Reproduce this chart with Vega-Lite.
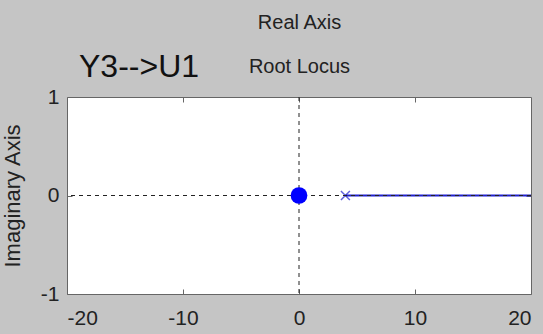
{
  "$schema": "https://vega.github.io/schema/vega-lite/v6.json",
  "width": 464,
  "height": 197,
  "autosize": "none",
  "padding": {"left": 67, "top": 97, "right": 12, "bottom": 40},
  "background": "#c5c5c5",
  "view": {"fill": "white", "stroke": "#666666", "strokeWidth": 1},
  "title": {"text": "Y3-->U1", "anchor": "start", "frame": "group", "dx": 12, "dy": 89, "offset": 17, "font": "Liberation Sans", "fontSize": 32, "fontWeight": "normal", "color": "#111111"},
  "config": {
    "font": "Liberation Sans",
    "axis": {"domain": false, "grid": false, "tickSize": -5, "tickColor": "#666666", "labelFont": "Liberation Sans", "labelFontSize": 21, "labelColor": "#222222", "titleFont": "Liberation Sans", "titleFontSize": 20, "titleFontWeight": "normal", "titleColor": "#222222", "labelExpr": "'' + datum.value"}
  },
  "datasets": {
    "locus": [{"re": 4, "im": 0}, {"re": 20, "im": 0}],
    "pole": [{"re": 4, "im": 0}],
    "zero": [{"re": 0, "im": 0}],
    "origin": [{"re": 0, "im": 0}]
  },
  "resolve": {"axis": {"x": "independent", "y": "independent"}},
  "layer": [
    {
      "data": {"name": "locus"},
      "mark": {"type": "line", "color": "#2020d0", "strokeWidth": 2},
      "encoding": {
        "x": {"field": "re", "type": "quantitative", "scale": {"domain": [-20, 20], "nice": false, "zero": false},
              "axis": {"orient": "bottom", "values": [-20, -10, 0, 10, 20], "labelPadding": 18, "title": "Real Axis", "titleY": -266, "titleBaseline": "alphabetic"}},
        "y": {"field": "im", "type": "quantitative", "scale": {"domain": [-1, 1], "nice": false, "zero": false},
              "axis": {"orient": "left", "values": [-1, 0, 1], "labelPadding": 13, "title": "Imaginary Axis", "titleFontSize": 22, "titlePadding": 16}}
      }
    },
    {
      "data": {"name": "pole"},
      "mark": {"type": "point", "shape": "M-1,-1L1,1M-1,1L1,-1", "color": "#2020d0", "strokeWidth": 1.5, "size": 80, "filled": false},
      "encoding": {
        "x": {"field": "re", "type": "quantitative", "axis": {"orient": "top", "values": [-10, 0, 10], "labels": false, "title": "Root Locus", "titlePadding": 20}},
        "y": {"field": "im", "type": "quantitative", "axis": {"orient": "right", "values": [0], "labels": false, "title": null}}
      }
    },
    {
      "data": {"name": "origin"},
      "mark": {"type": "rule", "strokeDash": [4, 4], "color": "#222222", "strokeWidth": 1},
      "encoding": {"y": {"field": "im", "type": "quantitative", "axis": null}}
    },
    {
      "data": {"name": "origin"},
      "mark": {"type": "rule", "strokeDash": [4, 4], "color": "#222222", "strokeWidth": 1},
      "encoding": {"x": {"field": "re", "type": "quantitative", "axis": null}}
    },
    {
      "data": {"name": "zero"},
      "mark": {"type": "point", "shape": "circle", "filled": true, "color": "#0000ff", "size": 280, "opacity": 1},
      "encoding": {
        "x": {"field": "re", "type": "quantitative", "axis": null},
        "y": {"field": "im", "type": "quantitative", "axis": null}
      }
    }
  ]
}
